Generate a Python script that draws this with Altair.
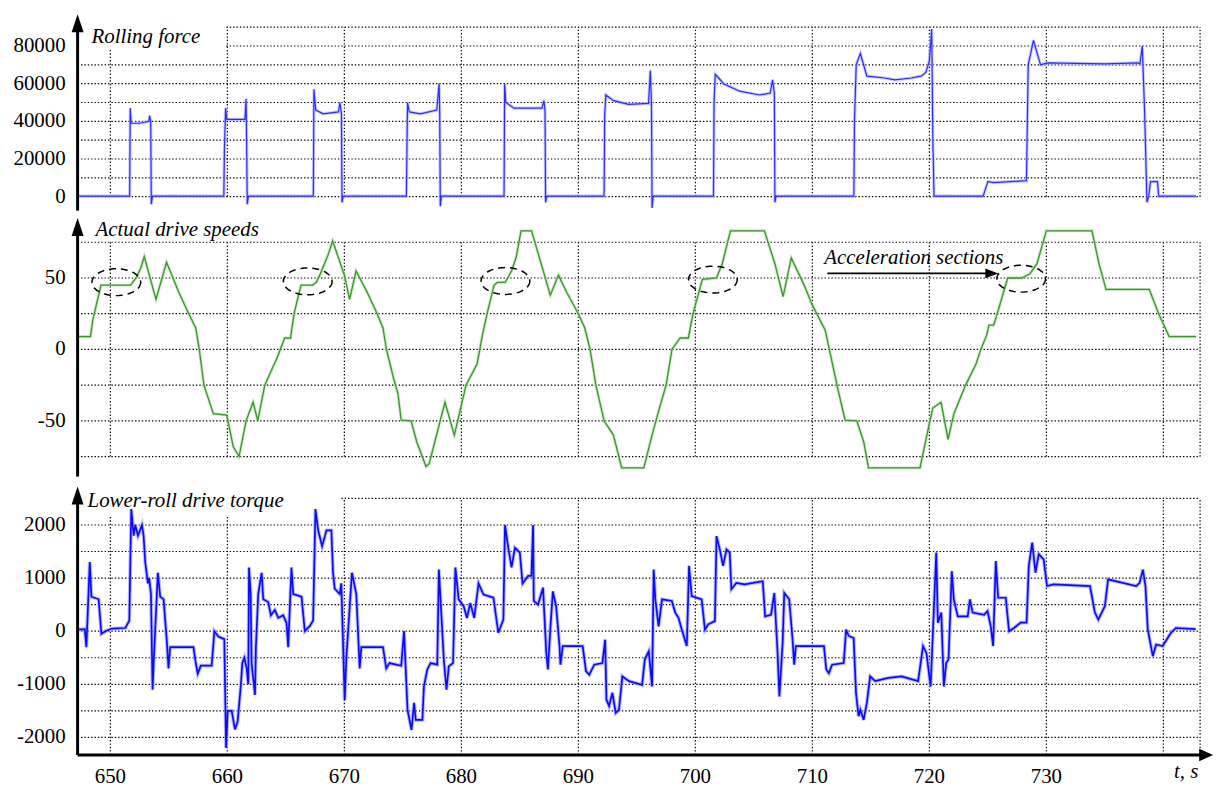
import altair as alt
import pandas as pd
import numpy as np

FONT = "Liberation Serif"
XMIN, XMAX = 647.2, 743.14
W = 1129
H_FORCE, H_SPEED, H_TORQUE = 180, 250, 258
GAP = 22

# ---------------- data ----------------
force_pts = [
    (647.2, 300), (651.65, 300), (651.7, 47000), (651.78, 39000), (652.5, 39000), (653.3, 40000),
    (653.35, 43000), (653.45, 40000), (653.5, -4000), (653.6, 300),
    (659.7, 300), (659.75, 25000), (659.85, 47000), (659.95, 41000), (661.5, 41000), (661.6, 52000),
    (661.65, 27000), (661.7, -4000), (661.8, 300),
    (667.35, 300), (667.4, 57000), (667.55, 46000), (668.2, 44000), (669.5, 45000), (669.62, 50000),
    (669.75, 44000), (669.8, -3000), (669.9, 300),
    (675.3, 300), (675.4, 50000), (675.55, 45000), (676.5, 44000), (677.9, 46000), (678.1, 60000),
    (678.15, 45000), (678.2, -5000), (678.3, 300),
    (683.65, 300), (683.7, 60000), (683.8, 50000), (684.5, 47000), (686.9, 47000), (687.05, 51000),
    (687.15, 46000), (687.2, -3000), (687.3, 300),
    (692.2, 300), (692.25, 43000), (692.35, 54000), (693.0, 51000), (694.3, 49000), (696.0, 49500),
    (696.15, 67000), (696.25, 49000), (696.3, -6000), (696.4, 300),
    (701.55, 300), (701.6, 50000), (701.7, 65000), (702.0, 63000), (702.4, 60000), (703.8, 56000),
    (705.5, 54000), (706.4, 55000), (706.6, 62000), (706.75, 55000), (706.8, -3000), (706.9, 300),
    (713.55, 300), (713.6, 40000), (713.75, 70000), (714.1, 76000), (714.66, 64000), (716.2, 63000),
    (717.05, 62000), (718.45, 63000), (719.3, 64000), (719.7, 66000), (720.0, 72000), (720.2, 89000),
    (720.3, 30000), (720.4, 300),
    (724.6, 300), (725.0, 8000), (725.5, 7500), (728.3, 8500), (728.45, 70000), (728.9, 83000),
    (729.5, 70000), (730.1, 71000), (735.0, 70500), (737.8, 71000), (738.0, 70500), (738.2, 80000),
    (738.4, 45000), (738.6, -3000), (738.75, 300), (738.9, 8000), (739.5, 8000), (739.6, 300),
    (742.8, 300),
]

speed_pts = [
    (647.2, 9), (648.3, 9), (648.5, 20.5), (649.2, 45), (651.75, 45), (651.9, 47), (652.2, 50),
    (652.6, 57), (652.9, 65), (653.9, 35), (654.8, 61), (655.85, 40), (656.7, 25), (657.3, 15),
    (657.6, 0), (658.0, -25), (658.8, -45), (659.95, -46), (660.5, -68), (661.0, -75),
    (661.6, -50), (662.2, -37), (662.6, -50), (663.2, -25), (663.75, -15), (664.3, -5), (664.9, 8),
    (665.4, 8), (665.7, 25), (666.3, 45), (667.3, 45), (667.6, 47), (667.9, 52), (668.6, 66),
    (669.0, 76), (670.0, 52), (670.45, 35), (671.0, 55), (671.95, 40), (672.8, 25), (673.3, 15),
    (673.6, 0), (674.2, -20), (674.58, -31), (674.86, -49.5), (675.7, -50), (676.2, -65),
    (676.98, -82), (677.25, -80), (678.6, -37), (679.4, -60), (680.4, -25), (681.35, -10),
    (681.8, 10), (682.2, 25), (682.8, 45), (683.1, 47), (683.75, 47), (684.3, 55), (684.7, 65),
    (685.1, 83), (686.0, 83), (687.0, 55), (687.6, 38), (688.3, 52), (689.0, 40), (690.0, 25),
    (690.55, 15), (691.0, 0), (691.5, -25), (692.2, -50), (693.0, -60), (693.7, -83), (695.6, -83),
    (696.3, -60), (696.9, -42), (697.5, -25), (698.0, 0), (698.7, 8), (699.4, 8), (699.8, 25),
    (700.6, 49), (701.8, 50), (702.3, 60), (703.0, 83), (705.9, 83), (706.8, 60), (707.5, 37),
    (708.2, 64), (709.3, 45), (710.0, 31), (711.1, 13.5), (712.2, -28.5), (712.8, -49.5),
    (713.8, -50), (714.4, -65), (714.8, -83), (719.2, -83), (720.0, -52), (720.3, -41),
    (721.0, -37), (721.6, -63), (722.1, -45), (723.1, -25), (724.0, -10), (724.4, 0), (724.9, 10),
    (725.1, 17), (725.5, 17), (725.8, 25), (726.7, 50), (727.9, 50), (728.6, 53), (729.2, 60),
    (730.0, 83), (733.9, 83), (734.5, 60), (735.1, 42), (738.8, 42), (739.6, 25), (740.5, 9),
    (742.8, 9),
]

torque_pts = [
    (647.2, 30), (647.81, 40), (647.95, -300), (648.24, 1300), (648.38, 650), (649.0, 600),
    (649.23, -50), (649.57, 0), (650.14, 50), (651.28, 60), (651.62, 200), (651.79, 2300),
    (651.99, 1800), (652.13, 2000), (652.36, 1800), (652.70, 2000), (652.84, 1800), (652.98, 1300),
    (653.21, 900), (653.32, 1000), (653.47, 700), (653.61, -1100), (653.72, -500), (654.06, 1100),
    (654.26, 650), (654.55, 600), (654.83, -200), (654.97, -700), (655.11, -300), (657.10, -300),
    (657.30, -600), (657.47, -800), (657.73, -650), (658.66, -650), (658.89, 0), (659.23, -100),
    (659.74, -150), (659.89, -2200), (660.03, -1500), (660.37, -1500), (660.65, -1850),
    (660.88, -1700), (661.16, -1000), (661.28, -600), (661.45, -500), (661.65, -700),
    (661.79, -1000), (661.85, 1200), (661.99, 700), (662.07, -600), (662.36, -1200),
    (662.44, -300), (662.64, 700), (662.93, 1100), (663.07, 600), (663.49, 550), (663.72, 300),
    (664.06, 400), (664.35, 250), (664.77, 300), (665.06, 150), (665.20, -300), (665.48, 1200),
    (665.63, 700), (666.34, 650), (666.62, 0), (667.05, 100), (667.33, 200), (667.53, 2300),
    (667.76, 1900), (668.10, 1600), (668.47, 1900), (668.89, 1900), (669.03, 1100), (669.18, 800),
    (669.60, 700), (669.74, 900), (670.03, -1300), (670.17, -500), (670.65, 1100), (671.02, 700),
    (671.31, -700), (671.45, -300), (673.30, -300), (673.58, -700), (673.86, -600), (674.86, -650),
    (675.1, 0), (675.4, -1480), (675.74, -1860), (675.96, -1350), (676.1, -1670), (676.67, -1670),
    (676.8, -1040), (677.09, -720), (677.37, -600), (677.94, -630), (678.08, 1160), (678.22, 600),
    (678.5, -530), (678.73, -1100), (678.93, -660), (679.29, -600), (679.49, 1200), (679.77, 600),
    (680.2, 470), (680.48, 250), (680.76, 530), (681.1, 250), (681.47, 900), (681.89, 690),
    (682.74, 630), (683.16, -30), (683.59, 220), (683.73, 2000), (684.01, 1570), (684.29, 1200),
    (684.58, 1570), (685.0, 1480), (685.23, 900), (685.71, 1040), (685.99, 1040), (686.13, 2000),
    (686.19, 570), (686.55, 500), (686.98, 820), (687.26, -410), (687.4, -720), (687.6, 30),
    (687.82, 750), (688.1, 470), (688.39, -280), (688.47, -630), (688.67, -280), (690.37, -280),
    (690.65, -750), (690.93, -820), (691.36, -630), (692.06, -600), (692.29, -160), (692.4, -1290),
    (692.63, -1410), (692.91, -1160), (693.19, -1540), (693.47, -1480), (693.76, -850),
    (694.32, -940), (695.45, -1010), (695.68, -530), (696.02, -380), (696.3, -1040), (696.44, 1160),
    (696.58, 600), (696.86, 90), (697.15, 600), (697.99, 570), (698.28, 350), (698.56, 250),
    (698.84, 30), (699.27, -280), (699.46, 1230), (699.69, 660), (700.54, 600), (700.82, 30),
    (701.1, 130), (701.67, 190), (701.81, 1790), (702.09, 1540), (702.37, 1230), (702.66, 1540),
    (702.94, 1480), (703.08, 790), (703.5, 910), (704.21, 880), (705.76, 940), (705.96, 280),
    (706.47, 310), (706.75, 720), (707.03, -410), (707.18, -1230), (707.46, -220), (707.6, 720),
    (708.02, 600), (708.31, -160), (708.45, -630), (708.59, -280), (710.99, -280), (711.19, -720),
    (711.41, -790), (711.69, -630), (712.68, -600), (712.88, 30), (713.11, -90), (713.53, -130),
    (713.73, -1160), (713.95, -1600), (714.1, -1480), (714.38, -1670), (714.66, -1350),
    (714.94, -850), (715.37, -940), (716.5, -880), (717.63, -850), (719.04, -940), (719.46, -280),
    (719.75, -410), (720.11, -1040), (720.59, 1480), (720.73, 160), (721.02, 350), (721.24, -1040),
    (721.44, -600), (721.64, -530), (721.92, 1130), (722.09, 600), (722.43, 280), (723.28, 280),
    (723.47, 600), (723.7, 350), (724.69, 310), (724.97, 380), (725.25, 90), (725.45, -280),
    (725.68, 1320), (725.88, 630), (726.53, 630), (726.81, 0), (727.23, 60), (727.8, 160),
    (728.31, 160), (728.5, 1230), (728.79, 1670), (729.07, 1100), (729.35, 1450), (729.77, 1350),
    (730.06, 850), (730.62, 880), (733.73, 850), (734.15, 350), (734.44, 220), (735.0, 470),
    (735.28, 975), (737.68, 850), (737.97, 910), (738.25, 1160), (738.47, 850), (738.67, 30),
    (739.1, -470), (739.38, -250), (739.94, -280), (740.65, -30), (741.07, 60), (742.77, 40),
]

x_grid = [650, 660, 670, 680, 690, 700, 710, 720, 730, 740]
x_labels = [650, 660, 670, 680, 690, 700, 710, 720, 730]
force_grid = [0, 10000, 20000, 30000, 40000, 50000, 60000, 70000, 80000, 90000]
force_labels = [0, 20000, 40000, 60000, 80000]
speed_grid = [-75, -50, -25, 0, 25, 50, 75]
speed_labels = [-50, 0, 50]
torque_grid = [-2000, -1500, -1000, -500, 0, 500, 1000, 1500, 2000, 2500]
torque_labels = [-2000, -1000, 0, 1000, 2000]

accel_t = [650.51, 666.87, 683.77, 701.5, 727.85]
accel_v = [47.05, 47.6, 47.9, 48.9, 49.5]

# ---------------- helpers ----------------
XS = alt.Scale(domain=[XMIN, XMAX], nice=False, zero=False)
DOT = dict(color="#000000", strokeWidth=1.2, strokeDash=[1.4, 2.0])
ARROW_UP = "M0,-1L0.667,1L-0.667,1Z"
ARROW_RIGHT = "M1,0L-1,-0.9L-1,0.9Z"
ARROW_RIGHT_SMALL = "M1,0L-1,-0.75L-1,0.75Z"
TXT = dict(font=FONT, fontSize=21, color="black")


def ellipse_path(ry=0.551, n=60):
    ang = np.linspace(0, 2 * np.pi, n, endpoint=False)
    return "M" + "L".join(f"{np.cos(a):.4f},{ry * np.sin(a):.4f}" for a in ang) + "Z"


def fmt(v):
    return ("-" if v < 0 else "") + str(abs(int(v)))


def build_panel(pts, ydom, height, grid_vals, label_vals, vspan, axis_span, arrow_v,
                color, halo, lw, hw, title, title_t, title_v, mask=None, extras=None):
    YS = alt.Scale(domain=ydom, nice=False, zero=False)

    def X(f):
        return alt.X(f, scale=XS, axis=None)

    def Y(f):
        return alt.Y(f, scale=YS, axis=None)

    df = pd.DataFrame(pts, columns=["t", "v"])
    hg = pd.DataFrame({"y": grid_vals, "x0": XMIN, "x1": XMAX})
    vg = pd.DataFrame({"x": x_grid + [XMAX], "y0": vspan[0], "y1": vspan[1]})
    lab = pd.DataFrame({"y": label_vals, "x": XMIN, "label": [fmt(v) for v in label_vals]})

    layers = [
        alt.Chart(hg).mark_rule(**DOT).encode(x=X("x0:Q"), x2="x1:Q", y=Y("y:Q")),
        alt.Chart(vg).mark_rule(**DOT).encode(x=X("x:Q"), y=Y("y0:Q"), y2="y1:Q"),
        alt.Chart(lab).mark_text(align="right", baseline="middle", dx=-12, **TXT).encode(
            x=X("x:Q"), y=Y("y:Q"), text="label:N"),
    ]
    if mask is not None:
        mdf = pd.DataFrame({"x0": [mask[0]], "x1": [mask[1]], "y0": [mask[2]], "y1": [mask[3]]})
        layers.append(alt.Chart(mdf).mark_rect(color="white").encode(
            x=X("x0:Q"), x2="x1:Q", y=Y("y0:Q"), y2="y1:Q"))

    layers.append(alt.Chart(df).mark_line(color=halo, strokeWidth=hw, opacity=0.7).encode(
        x=X("t:Q"), y=Y("v:Q")))
    layers.append(alt.Chart(df).mark_line(color=color, strokeWidth=lw).encode(
        x=X("t:Q"), y=Y("v:Q")))

    adf = pd.DataFrame({"x": [XMIN], "y0": [axis_span[0]], "y1": [axis_span[1]]})
    layers.append(alt.Chart(adf).mark_rule(color="black", strokeWidth=3).encode(
        x=X("x:Q"), y=Y("y0:Q"), y2="y1:Q"))
    hdf = pd.DataFrame({"x": [XMIN], "y": [arrow_v]})
    layers.append(alt.Chart(hdf).mark_point(shape=ARROW_UP, size=324, filled=True, color="black",
                                            opacity=1, strokeWidth=0).encode(x=X("x:Q"), y=Y("y:Q")))

    tdf = pd.DataFrame({"x": [title_t], "y": [title_v], "label": [title]})
    layers.append(alt.Chart(tdf).mark_text(align="left", baseline="alphabetic",
                                           fontStyle="italic", **TXT).encode(
        x=X("x:Q"), y=Y("y:Q"), text="label:N"))

    if extras:
        layers.extend(extras(X, Y))

    return alt.layer(*layers).properties(width=W, height=height)


def speed_extras(X, Y):
    edf = pd.DataFrame({"t": accel_t, "v": accel_v})
    ell = alt.Chart(edf).mark_point(shape=ellipse_path(), size=2401, filled=False, color="black",
                                    strokeWidth=1.5, strokeDash=[7, 5], opacity=1).encode(
        x=X("t:Q"), y=Y("v:Q"))
    txt = alt.Chart(pd.DataFrame({"x": [711.02], "y": [59.9], "label": ["Acceleration sections"]})).mark_text(
        align="left", baseline="alphabetic", fontStyle="italic", **TXT).encode(
        x=X("x:Q"), y=Y("y:Q"), text="label:N")
    arr = alt.Chart(pd.DataFrame({"x0": [711.28], "x1": [725.3], "y": [53.2]})).mark_rule(
        color="black", strokeWidth=1.6).encode(x=X("x0:Q"), x2="x1:Q", y=Y("y:Q"))
    head = alt.Chart(pd.DataFrame({"x": [725.34], "y": [53.2]})).mark_point(
        shape=ARROW_RIGHT_SMALL, size=169, filled=True, color="black", opacity=1, strokeWidth=0).encode(
        x=X("x:Q"), y=Y("y:Q"))
    return [ell, arr, head, txt]


def torque_extras(X, Y):
    xa = alt.Chart(pd.DataFrame({"x0": [XMIN], "x1": [743.6], "y": [-2330]})).mark_rule(
        color="black", strokeWidth=3).encode(x=X("x0:Q"), x2="x1:Q", y=Y("y:Q"))
    head = alt.Chart(pd.DataFrame({"x": [743.66], "y": [-2330]})).mark_point(
        shape=ARROW_RIGHT, size=196, filled=True, color="black", opacity=1, strokeWidth=0).encode(
        x=X("x:Q"), y=Y("y:Q"))
    xl = pd.DataFrame({"x": x_labels, "y": -2330, "label": [str(v) for v in x_labels]})
    xlab = alt.Chart(xl).mark_text(align="center", baseline="top", dy=11, **TXT).encode(
        x=X("x:Q"), y=Y("y:Q"), text="label:N")
    ts = alt.Chart(pd.DataFrame({"x": [741.95], "y": [-2761], "label": ["t, s"]})).mark_text(
        align="center", baseline="alphabetic", fontStyle="italic", **TXT).encode(
        x=X("x:Q"), y=Y("y:Q"), text="label:N")
    return [xa, head, xlab, ts]


force_panel = build_panel(
    force_pts, [-5000, 90000], H_FORCE, force_grid, force_labels, (0, 90000), (-7400, 92000), 92111,
    "#2b2bff", "#b4b4ff", 1.2, 3.2, "Rolling force", 648.39, 81545,
    mask=(647.28, 659.78, 93680, 77850))

speed_panel = build_panel(
    speed_pts, [-89, 85], H_SPEED, speed_grid, speed_labels, (-75, 75), (-89, 85.5), 85.7,
    "#3a962c", "#b2dba9", 1.3, 3.0, "Actual drive speeds", 648.73, 79.4,
    extras=speed_extras)

torque_panel = build_panel(
    torque_pts, [-2330, 2500], H_TORQUE, torque_grid, torque_labels, (-2330, 2500), (-2330, 2550), 2556,
    "#0a0aff", "#9c9cff", 1.7, 3.8, "Lower-roll drive torque", 648.05, 2331,
    mask=(647.28, 669.72, 2593, 2162), extras=torque_extras)

chart = alt.vconcat(force_panel, speed_panel, torque_panel, spacing=GAP, bounds="flush").properties(
    padding={"left": 5, "top": 4, "right": 0, "bottom": 0},
    background="white",
).configure_view(stroke=None)

chart.save("out.html", embed_options={"renderer": "svg", "actions": False})
